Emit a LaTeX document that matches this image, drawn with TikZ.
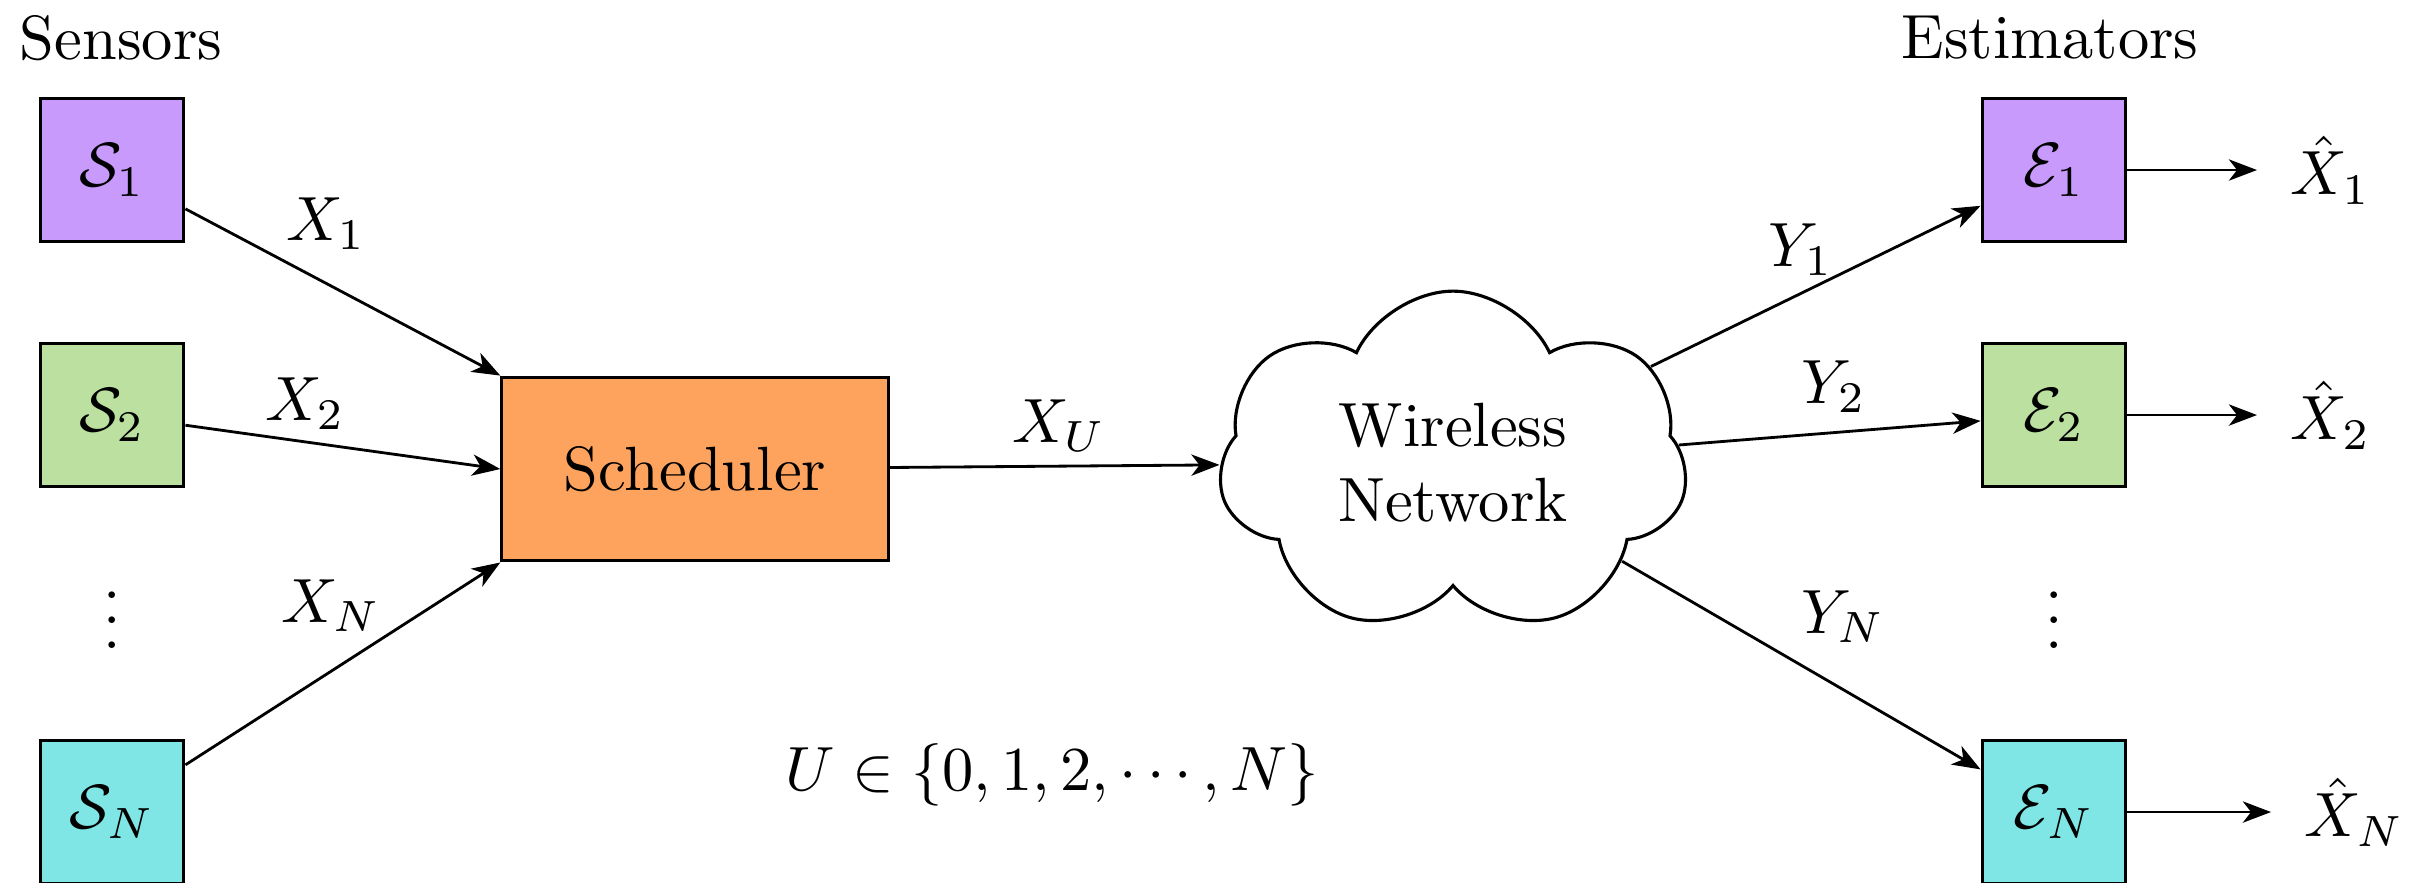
\documentclass[tikz,border=0pt]{standalone}
\usetikzlibrary{arrows.meta,shapes.symbols}
\definecolor{boxpurple}{HTML}{C89AFC}
\definecolor{boxgreen}{HTML}{BBE0A0}
\definecolor{boxcyan}{HTML}{80E5E5}
\definecolor{schedorange}{HTML}{FEA35D}
\begin{document}
\begin{tikzpicture}[x=0.16pt,y=-0.16pt,
  sbox/.style={draw, line width=0.5pt, minimum size=23pt, inner sep=0pt},
  link/.style={-{Stealth[length=4.5pt,width=3.4pt,inset=1.3pt]}, line width=0.45pt},
  lbl/.style={anchor=base, inner sep=0pt},
  outlbl/.style={anchor=west, inner xsep=5.2pt},
]
\useasboundingbox (0,0) rectangle (2422,882);

% column titles
\node[lbl] (sens) at (121,59) {Sensors};
\node[lbl] (est) at (2050,58) {Estimators};

% sensors
\node[sbox, fill=boxpurple] (S1) at (112,170) {$\mathcal{S}_1$};
\node[sbox, fill=boxgreen]  (S2) at (112,415) {$\mathcal{S}_2$};
\node[sbox, fill=boxcyan]   (SN) at (112,812) {$\mathcal{S}_N$};
\node[lbl] (sdots) at (112,648) {$\vdots$};

% scheduler and network
\node[draw, line width=0.5pt, fill=schedorange, minimum width=61.8pt,
      minimum height=29.4pt] (sched) at (695,469) {Scheduler};
\node[cloud, draw, line width=0.5pt, cloud puffs=7, cloud puff arc=130,
      cloud ignores aspect, minimum width=75pt, minimum height=55pt,
      align=center, inner sep=0pt] (net) at (1453,463) {Wireless\\Network};

% estimators
\node[sbox, fill=boxpurple] (E1) at (2054,170) {$\mathcal{E}_1$};
\node[sbox, fill=boxgreen]  (E2) at (2054,415) {$\mathcal{E}_2$};
\node[sbox, fill=boxcyan]   (EN) at (2054,812) {$\mathcal{E}_N$};
\node[lbl] (edots) at (2054,648) {$\vdots$};

% estimates
\node[outlbl] (Xh1) at (2257,170) {$\hat{X}_1$};
\node[outlbl] (Xh2) at (2257,415) {$\hat{X}_2$};
\node[outlbl] (XhN) at (2271,812) {$\hat{X}_N$};

% sensor links
\draw[link] (S1) -- (sched.north west);
\draw[link] (S2) -- (sched.west);
\draw[link] (SN) -- (sched.south west);
\node[lbl] (x1) at (326,240) {$X_1$};
\node[lbl] (x2) at (305,420) {$X_2$};
\node[lbl] (xn) at (331,622) {$X_N$};

% scheduler to network
\draw[link] (sched) -- (net);
\node[lbl] (xu) at (1059,442) {$X_U$};

% network to estimators
\draw[link] (net) -- (E1);
\draw[link] (net) -- (E2);
\draw[link] (net) -- (EN);
\node[lbl] (y1) at (1801,266) {$Y_1$};
\node[lbl] (y2) at (1834,403) {$Y_2$};
\node[lbl] (yn) at (1843,633) {$Y_N$};

% estimator outputs
\draw[link] (E1) -- (Xh1);
\draw[link] (E2) -- (Xh2);
\draw[link] (EN) -- (XhN);

% scheduling decision
\node[lbl] (ulab) at (1052,790) {$U \in \{0,1,2,\cdots,N\}$};
\end{tikzpicture}
\end{document}
